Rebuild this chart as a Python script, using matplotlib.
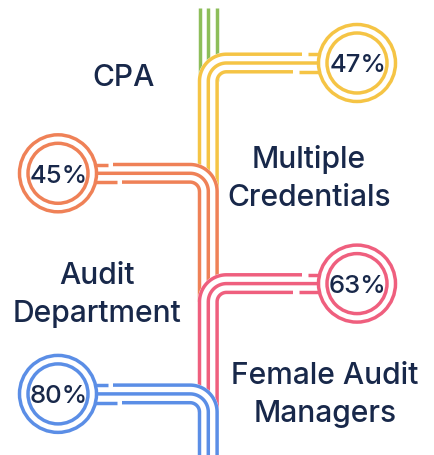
import numpy as np
import matplotlib
matplotlib.use("Agg")
import matplotlib.pyplot as plt
from matplotlib.patches import Circle

# ---- data ----
labels = ["CPA", "Multiple\nCredentials", "Audit\nDepartment", "Female Audit\nManagers"]
values = [47, 45, 63, 80]
colors = ["#F5C445", "#EF8157", "#EF5F7E", "#5B8EE6"]
trunk_color = "#8DBE5A"
text_color = "#18284A"

# ---- layout (pixels, y down) ----
W, H = 434, 455
trunk_x = 208.3
sp = 8.8            # track spacing
R0 = 27.0           # outer bend radius
yc0, ystep = 63.0, 110.3
circ_x = {"right": 357.0, "left": 58.0}
sides = ["right", "left", "right", "left"]
R_out, R_in = 38.5, 30.0
label_pos = [(124, 75.5), (309, 176.5), (97, 292.0), (325, 392.5)]
lw = 2.5
fs_label = 21.6
fs_val = 18.5
line_gap = 38.5
cap_label = 21.5
cap_val = 18.5
font = ["Inter", "DejaVu Sans"]

fig = plt.figure(figsize=(W / 100, H / 100), dpi=100)
ax = fig.add_axes([0, 0, 1, 1])
ax.set_xlim(0, W)
ax.set_ylim(H, 0)
ax.axis("off")

n = len(values)
ycs = [yc0 + i * ystep for i in range(n)]
cys = [yc - sp + R0 for yc in ycs]

# green trunk
for k in range(3):
    x = trunk_x + (k - 1) * sp
    ax.plot([x, x], [8, cys[0]], color=trunk_color, lw=lw, solid_capstyle="butt", zorder=1)

def arc_pts(cx, cy, r, t0, t1, m=40):
    t = np.linspace(t0, t1, m)
    return cx + r * np.cos(t), cy + r * np.sin(t)

for i in range(n):
    yc = ycs[i]
    side = sides[i]
    ccx = circ_x[side]
    y_bottom = cys[i + 1] if i + 1 < n else H + 5
    z = 2 + i * 3
    paths = []
    for k in range(3):
        yk = yc + (k - 1) * sp
        r = R0 - k * sp
        cy = yc - sp + R0
        dy = yk - yc
        if side == "right":
            xk = trunk_x - sp + k * sp
            cx = trunk_x - sp + R0
            ax_, ay_ = arc_pts(cx, cy, r, np.pi, 1.5 * np.pi)
            x_end = ccx - np.sqrt(R_out ** 2 - dy ** 2)
        else:
            xk = trunk_x + sp - k * sp
            cx = trunk_x + sp - R0
            ax_, ay_ = arc_pts(cx, cy, r, 0.0, -0.5 * np.pi)
            x_end = ccx + np.sqrt(R_out ** 2 - dy ** 2)
        xs = np.concatenate([[xk], ax_, [x_end]])
        ys = np.concatenate([[y_bottom], ay_, [yk]])
        paths.append((xs, ys, k, yk))
    # white backing band along middle track
    xs_m, ys_m = paths[1][0], paths[1][1]
    ax.plot(xs_m, ys_m, color="white", lw=21.5 * 0.72, solid_capstyle="butt",
            solid_joinstyle="round", zorder=z)
    for xs, ys, k, yk in paths:
        gaps = {0: (49.5, 55.0), 2: (58.5, 64.0)}
        if k in gaps:
            g0, g1 = gaps[k]
            sgn = -1 if side == "right" else 1
            xg0 = ccx + sgn * g1
            xg1 = ccx + sgn * g0
            xs1 = np.concatenate([xs[:-1], [xg0]])
            ys1 = np.concatenate([ys[:-1], [yk]])
            ax.plot(xs1, ys1, color=colors[i], lw=lw, solid_capstyle="butt",
                    solid_joinstyle="round", zorder=z + 1)
            ax.plot([xg1, xs[-1]], [yk, yk], color=colors[i], lw=lw,
                    solid_capstyle="butt", zorder=z + 1)
        else:
            ax.plot(xs, ys, color=colors[i], lw=lw, solid_capstyle="butt",
                    solid_joinstyle="round", zorder=z + 1)
    # circle
    ax.add_patch(Circle((ccx, yc), R_out, facecolor="white", edgecolor=colors[i],
                        lw=lw, zorder=z + 2))
    ax.add_patch(Circle((ccx, yc), R_in, facecolor="white", edgecolor=colors[i],
                        lw=lw, zorder=z + 2))
    ax.text(ccx + 1, yc + cap_val / 2, f"{values[i]}%", ha="center", va="baseline",
            fontsize=fs_val, color=text_color, family=font, weight="medium",
            zorder=z + 3)
    # label
    lx, ly = label_pos[i]
    lines = labels[i].split("\n")
    m = len(lines)
    for j, t in enumerate(lines):
        yline = ly + (j - (m - 1) / 2) * line_gap + cap_label / 2
        ax.text(lx, yline, t, ha="center", va="baseline", fontsize=fs_label,
                color=text_color, family=font, weight="medium", zorder=20)

fig.savefig("out.png", dpi=100, facecolor="white")
